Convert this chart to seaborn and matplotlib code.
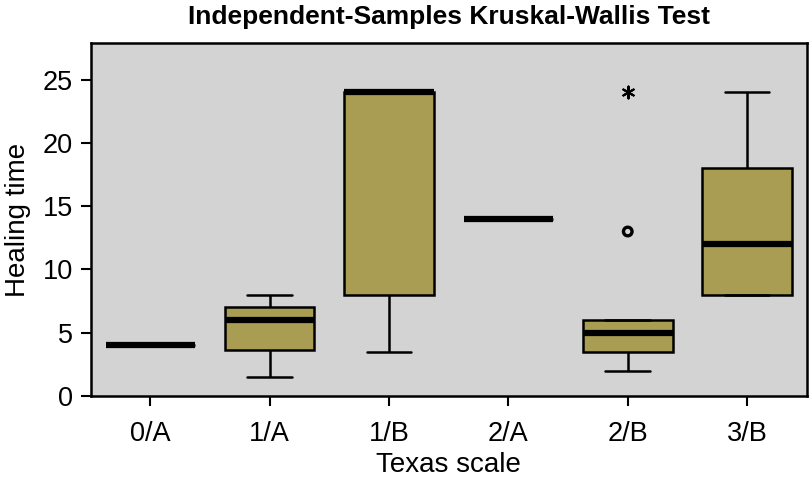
import numpy as np
import pandas as pd
import seaborn as sns
import matplotlib.pyplot as plt

GROUPS = ['0/A', '1/A', '1/B', '2/A', '2/B', '3/B']
# healing time samples per Texas scale group
T_0A = [4, 4, 4, 4]
T_1A = [1.5, 3.6, 6, 7, 8]
T_1B = [3.5, 8, 24, 24, 24]
T_2A = [14, 14, 14]
T_2B = [2, 3, 3.5, 4, 5, 5.5, 6, 13, 24]
T_3B = [8, 8, 12, 18, 24]

BOX_COLOR = '#A89D52'
BG = '#D3D3D3'

samples = [T_0A, T_1A, T_1B, T_2A, T_2B, T_3B]
df = pd.DataFrame({
    'group': [g for g, s in zip(GROUPS, samples) for _ in s],
    'time': [v for s in samples for v in s],
})

# SPSS style: circle = outlier (>1.5 IQR), star = extreme (>3 IQR)
rows = []
for g, s in zip(GROUPS, samples):
    q1, q3 = np.percentile(s, [25, 75])
    iqr = q3 - q1
    for v in s:
        d = max(q1 - v, v - q3)
        if d > 3 * iqr:
            rows.append((g, v, 'extreme'))
        elif d > 1.5 * iqr:
            rows.append((g, v, 'outlier'))
out = pd.DataFrame(rows, columns=['group', 'time', 'kind'])

sns.set_theme(style='white')
plt.rcParams['font.family'] = ['Liberation Sans', 'DejaVu Sans']

fig = plt.figure(figsize=(8.1, 4.84), dpi=100)
ax = fig.add_axes([0.112, 0.182, 0.884, 0.729])
ax.set_facecolor(BG)

sns.boxplot(data=df, x='group', y='time', order=GROUPS, color=BOX_COLOR,
            width=0.75, showfliers=False, saturation=1, linecolor='black',
            linewidth=1.8, medianprops=dict(linewidth=4.5, color='black'),
            ax=ax)

for kind, mk, sz in [('outlier', 'o', 8), ('extreme', (6, 2, 0), 11)]:
    sub = out[out['kind'] == kind]
    xs = [GROUPS.index(g) for g in sub['group']]
    ax.scatter(xs, sub['time'], marker=mk, s=sz ** 2 * 0.6,
               facecolor='none' if kind == 'outlier' else 'black',
               edgecolor='black', linewidth=2.4 if kind == 'outlier' else 1.5,
               zorder=5)

ax.set_xlim(-0.5, 5.5)
ax.set_ylim(0, 27.9)
ax.set_yticks([0, 5, 10, 15, 20, 25])
ax.tick_params(axis='both', direction='out', length=7, width=1.5,
               labelsize=19.5, colors='black', left=True, bottom=True, pad=6)
ax.tick_params(axis='x', pad=11)
for sp in ax.spines.values():
    sp.set_color('black')
    sp.set_linewidth(1.8)

ax.set_xlabel('Texas scale', fontsize=20, color='black', labelpad=4)
ax.set_ylabel('Healing time', fontsize=20, color='black', labelpad=8)
ax.set_title('Independent-Samples Kruskal-Wallis Test', fontsize=19,
             fontweight='bold', color='black', pad=14)

fig.savefig('out.png', dpi=100)
